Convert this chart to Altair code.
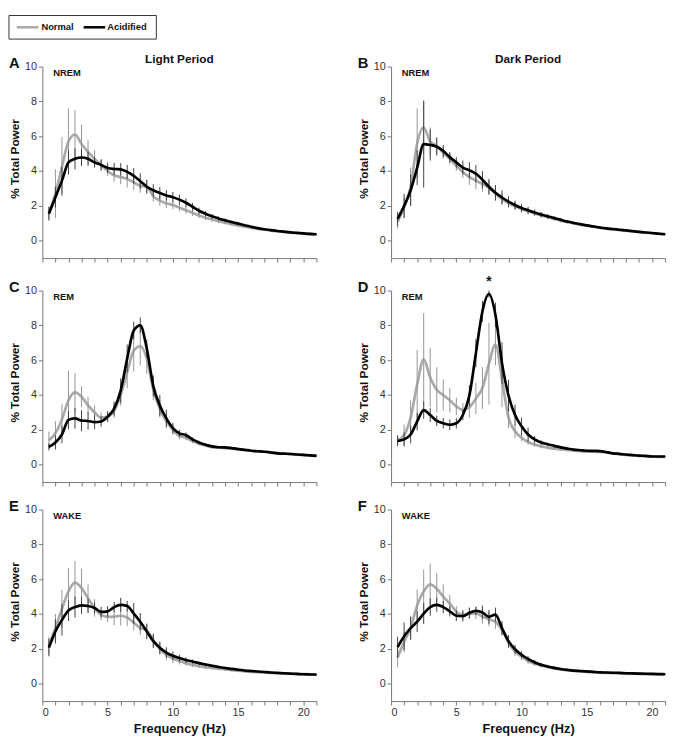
import altair as alt
import pandas as pd

# ---------------- data ----------------
freqs = [0.5 * i for i in range(1, 43)]  # 0.5 .. 21 Hz

A_norm = [1.6, 2.7, 4.25, 5.7, 6.1, 5.55, 5.1, 4.7, 4.35, 4.0, 3.75, 3.65, 3.55, 3.35, 3.15, 3.1, 2.55, 2.3, 2.15, 2.05, 1.9, 1.75, 1.6, 1.45, 1.32, 1.22, 1.12, 1.03, 0.95, 0.87, 0.8, 0.74, 0.68, 0.63, 0.58, 0.54, 0.5, 0.47, 0.44, 0.41, 0.39, 0.37]
A_acid = [1.55, 2.5, 3.45, 4.5, 4.7, 4.78, 4.7, 4.5, 4.35, 4.18, 4.12, 4.1, 3.95, 3.72, 3.42, 3.1, 2.9, 2.74, 2.6, 2.5, 2.36, 2.18, 1.95, 1.72, 1.55, 1.4, 1.28, 1.17, 1.07, 0.98, 0.89, 0.8, 0.72, 0.66, 0.61, 0.56, 0.52, 0.48, 0.45, 0.42, 0.39, 0.37]
A_errN = [0.35, 1.4, 1.7, 1.9, 1.4, 1.1, 0.7, 0.5, 0.35, 0.3, 0.35, 0.4, 0.5, 0.45, 0.4, 0.35, 0.3, 0.3, 0.28, 0.25, 0.22, 0.2, 0.18, 0.15, 0.13, 0.12, 0.1, 0.09, 0.08, 0.07, 0.06, 0.05, 0.05, 0.04, 0.04, 0.04, 0.03, 0.03, 0.03, 0.03, 0.03, 0.03]
A_errA = [0.4, 0.6, 0.8, 0.7, 0.6, 0.5, 0.4, 0.3, 0.3, 0.3, 0.35, 0.35, 0.4, 0.45, 0.45, 0.4, 0.35, 0.35, 0.3, 0.3, 0.28, 0.25, 0.22, 0.18, 0.15, 0.13, 0.11, 0.1, 0.08, 0.07, 0.06, 0.05, 0.05, 0.04, 0.04, 0.04, 0.03, 0.03, 0.03, 0.03, 0.03, 0.03]

B_norm = [1.1, 1.9, 3.1, 5.6, 6.5, 5.7, 5.45, 5.05, 4.7, 4.3, 3.95, 3.65, 3.45, 3.25, 3.05, 2.7, 2.4, 2.15, 1.98, 1.82, 1.7, 1.58, 1.46, 1.35, 1.25, 1.15, 1.07, 0.99, 0.92, 0.86, 0.8, 0.74, 0.69, 0.65, 0.61, 0.57, 0.53, 0.5, 0.47, 0.44, 0.41, 0.38]
B_acid = [1.25, 2.0, 2.9, 4.2, 5.55, 5.5, 5.4, 5.15, 4.8, 4.5, 4.2, 4.05, 3.85, 3.5, 3.1, 2.75, 2.48, 2.25, 2.05, 1.88, 1.75, 1.62, 1.5, 1.4, 1.3, 1.2, 1.1, 1.02, 0.95, 0.88, 0.82, 0.76, 0.71, 0.67, 0.63, 0.59, 0.55, 0.51, 0.47, 0.44, 0.4, 0.37]
B_errN = [0.4, 0.6, 1.1, 2.0, 1.5, 0.8, 0.5, 0.35, 0.3, 0.3, 0.35, 0.45, 0.5, 0.45, 0.4, 0.35, 0.3, 0.25, 0.22, 0.2, 0.18, 0.16, 0.14, 0.12, 0.1, 0.09, 0.08, 0.07, 0.06, 0.05, 0.05, 0.04, 0.04, 0.04, 0.03, 0.03, 0.03, 0.03, 0.03, 0.03, 0.03, 0.03]
B_errA = [0.4, 0.7, 0.9, 1.0, 2.5, 0.9, 0.5, 0.35, 0.3, 0.3, 0.4, 0.45, 0.5, 0.5, 0.45, 0.45, 0.4, 0.3, 0.25, 0.22, 0.2, 0.17, 0.15, 0.13, 0.11, 0.1, 0.09, 0.08, 0.07, 0.06, 0.05, 0.05, 0.04, 0.04, 0.04, 0.03, 0.03, 0.03, 0.03, 0.03, 0.03, 0.03]

C_norm = [1.4, 1.8, 2.6, 3.7, 4.15, 3.9, 3.4, 3.0, 2.7, 2.75, 3.1, 4.0, 5.3, 6.55, 6.8, 6.1, 4.3, 3.2, 2.5, 2.0, 1.65, 1.55, 1.35, 1.2, 1.1, 1.0, 0.97, 0.95, 0.92, 0.88, 0.84, 0.8, 0.77, 0.74, 0.71, 0.67, 0.64, 0.62, 0.59, 0.56, 0.54, 0.52]
C_acid = [1.02, 1.27, 1.73, 2.57, 2.66, 2.53, 2.51, 2.44, 2.48, 2.76, 3.22, 4.25, 6.1, 7.7, 8.0, 6.67, 4.52, 3.4, 2.66, 2.1, 1.8, 1.7, 1.45, 1.27, 1.14, 1.05, 1.0, 0.99, 0.95, 0.9, 0.85, 0.8, 0.77, 0.74, 0.7, 0.65, 0.63, 0.61, 0.58, 0.56, 0.53, 0.5]
C_errN = [0.5, 0.7, 0.9, 1.7, 1.1, 0.6, 0.5, 0.4, 0.3, 0.3, 0.4, 0.6, 0.9, 1.2, 1.1, 0.9, 0.6, 0.5, 0.4, 0.3, 0.2, 0.15, 0.12, 0.1, 0.08, 0.07, 0.06, 0.06, 0.05, 0.05, 0.05, 0.04, 0.04, 0.04, 0.04, 0.03, 0.03, 0.03, 0.03, 0.03, 0.03, 0.03]
C_errA = [0.2, 0.4, 0.5, 0.5, 0.6, 0.6, 0.5, 0.4, 0.3, 0.3, 0.4, 0.7, 0.8, 0.5, 0.45, 0.5, 0.6, 0.6, 0.5, 0.3, 0.2, 0.15, 0.12, 0.1, 0.08, 0.07, 0.06, 0.06, 0.05, 0.05, 0.05, 0.04, 0.04, 0.04, 0.04, 0.03, 0.03, 0.03, 0.03, 0.03, 0.03, 0.03]

D_norm = [1.4, 1.7, 2.7, 4.6, 6.05, 5.0, 4.3, 4.0, 3.7, 3.35, 3.15, 3.3, 3.8, 4.4, 5.8, 6.9, 4.9, 2.7, 1.92, 1.55, 1.3, 1.15, 1.05, 0.98, 0.92, 0.88, 0.84, 0.8, 0.78, 0.75, 0.74, 0.73, 0.7, 0.65, 0.6, 0.56, 0.53, 0.5, 0.48, 0.46, 0.45, 0.44]
D_acid = [1.36, 1.45, 1.73, 2.48, 3.13, 2.85, 2.51, 2.38, 2.29, 2.38, 2.85, 3.97, 6.4, 8.8, 9.8, 8.6, 5.83, 3.97, 2.85, 2.2, 1.73, 1.45, 1.27, 1.17, 1.08, 0.99, 0.92, 0.86, 0.83, 0.8, 0.79, 0.78, 0.72, 0.65, 0.62, 0.58, 0.55, 0.52, 0.5, 0.47, 0.47, 0.47]
D_errN = [0.3, 0.6, 1.0, 2.0, 2.65, 1.7, 1.3, 0.9, 0.7, 0.5, 0.4, 0.6, 0.9, 1.2, 2.35, 1.2, 1.6, 0.6, 0.4, 0.2, 0.15, 0.12, 0.1, 0.08, 0.07, 0.06, 0.06, 0.05, 0.05, 0.05, 0.05, 0.05, 0.04, 0.04, 0.04, 0.03, 0.03, 0.03, 0.03, 0.03, 0.03, 0.03]
D_errA = [0.3, 0.4, 0.5, 0.5, 0.5, 0.4, 0.3, 0.3, 0.3, 0.3, 0.3, 0.6, 0.8, 0.6, 0.2, 0.7, 1.2, 0.9, 0.6, 0.5, 0.4, 0.2, 0.12, 0.1, 0.08, 0.07, 0.06, 0.05, 0.05, 0.05, 0.05, 0.05, 0.04, 0.04, 0.04, 0.03, 0.03, 0.03, 0.03, 0.03, 0.03, 0.03]

E_norm = [2.2, 3.2, 4.3, 5.3, 5.8, 5.5, 4.9, 4.35, 3.95, 3.84, 3.85, 3.9, 3.8, 3.5, 3.2, 3.05, 2.5, 2.0, 1.65, 1.45, 1.3, 1.18, 1.08, 1.0, 0.95, 0.9, 0.86, 0.82, 0.78, 0.75, 0.71, 0.68, 0.66, 0.64, 0.62, 0.6, 0.58, 0.57, 0.56, 0.55, 0.54, 0.52]
E_acid = [2.07, 3.0, 3.66, 4.2, 4.4, 4.5, 4.46, 4.35, 4.12, 4.15, 4.4, 4.53, 4.46, 4.03, 3.56, 3.0, 2.44, 2.07, 1.79, 1.6, 1.47, 1.36, 1.27, 1.18, 1.1, 1.03, 0.96, 0.9, 0.85, 0.8, 0.76, 0.73, 0.7, 0.67, 0.64, 0.62, 0.6, 0.58, 0.56, 0.54, 0.53, 0.52]
E_errN = [0.5, 0.8, 1.1, 1.35, 1.25, 1.1, 0.8, 0.5, 0.3, 0.3, 0.5, 0.55, 0.5, 0.45, 0.4, 0.35, 0.4, 0.35, 0.3, 0.25, 0.2, 0.15, 0.12, 0.1, 0.09, 0.08, 0.07, 0.06, 0.06, 0.05, 0.05, 0.05, 0.04, 0.04, 0.04, 0.03, 0.03, 0.03, 0.03, 0.03, 0.03, 0.03]
E_errA = [0.5, 0.7, 0.9, 0.6, 0.6, 0.5, 0.4, 0.3, 0.3, 0.3, 0.3, 0.4, 0.3, 0.6, 0.5, 0.45, 0.4, 0.35, 0.3, 0.25, 0.2, 0.15, 0.12, 0.1, 0.09, 0.08, 0.07, 0.06, 0.06, 0.05, 0.05, 0.05, 0.04, 0.04, 0.04, 0.03, 0.03, 0.03, 0.03, 0.03, 0.03, 0.03]

F_norm = [1.5, 2.4, 3.2, 4.5, 5.3, 5.7, 5.45, 5.0, 4.6, 4.15, 3.95, 4.0, 4.05, 3.85, 3.7, 3.55, 3.1, 2.35, 1.85, 1.55, 1.3, 1.15, 1.05, 0.95, 0.88, 0.82, 0.77, 0.73, 0.7, 0.68, 0.65, 0.63, 0.62, 0.61, 0.6, 0.58, 0.57, 0.56, 0.55, 0.55, 0.54, 0.53]
F_acid = [2.1, 2.72, 3.19, 3.56, 4.03, 4.4, 4.53, 4.4, 4.16, 3.9, 3.88, 4.07, 4.18, 4.09, 3.84, 3.97, 3.19, 2.44, 1.98, 1.66, 1.42, 1.23, 1.08, 0.99, 0.91, 0.84, 0.79, 0.75, 0.73, 0.71, 0.68, 0.65, 0.64, 0.63, 0.62, 0.6, 0.59, 0.58, 0.57, 0.56, 0.55, 0.54]
F_errN = [0.55, 0.6, 0.7, 0.9, 1.25, 1.2, 0.9, 0.7, 0.5, 0.3, 0.3, 0.3, 0.35, 0.4, 0.4, 0.4, 0.3, 0.3, 0.25, 0.2, 0.15, 0.12, 0.1, 0.09, 0.08, 0.07, 0.06, 0.06, 0.05, 0.05, 0.05, 0.04, 0.04, 0.04, 0.03, 0.03, 0.03, 0.03, 0.03, 0.03, 0.03, 0.03]
F_errA = [0.6, 0.8, 0.65, 0.6, 0.6, 0.5, 0.4, 0.35, 0.3, 0.3, 0.3, 0.3, 0.25, 0.4, 0.4, 0.4, 0.4, 0.35, 0.25, 0.2, 0.15, 0.12, 0.1, 0.09, 0.08, 0.07, 0.06, 0.06, 0.05, 0.05, 0.05, 0.04, 0.04, 0.04, 0.03, 0.03, 0.03, 0.03, 0.03, 0.03, 0.03, 0.03]

panel_letters = ["A", "B", "C", "D", "E", "F"]
stage_labels = ["NREM", "NREM", "REM", "REM", "WAKE", "WAKE"]
column_titles = ["Light Period", "Dark Period"]
series_names = ["Normal", "Acidified"]
x_ticks = list(range(0, 22))
y_ticks = [0, 2, 4, 6, 8, 10]
star_f = [7.5]
star_v = [10.5]

# ---------------- style ----------------
W, H = 279, 195
FONT = "Liberation Sans"
NARROW = "Liberation Sans Narrow, Arial Narrow, Liberation Sans"
GRAY = "#a9a9a9"
BLACK = "#000000"


def panel_df(norm, acid, en, ea):
    rows = []
    for f, n, a, e1, e2 in zip(freqs, norm, acid, en, ea):
        rows.append({"f": f, "g": series_names[0], "v": n, "lo": n - e1, "hi": n + e1})
        rows.append({"f": f, "g": series_names[1], "v": a, "lo": a - e2, "hi": a + e2})
    return pd.DataFrame(rows)


one = pd.DataFrame({"k": [0]})


def make_panel(idx, norm, acid, en, ea):
    bottom = idx >= 4
    top = idx < 2
    df = panel_df(norm, acid, en, ea)
    xax = alt.Axis(
        values=x_ticks,
        labels=bottom,
        labelExpr="datum.value % 5 === 0 ? datum.label : ''",
        title="Frequency (Hz)" if bottom else None,
        titleFontSize=13,
        titlePadding=5,
    )
    yax = alt.Axis(values=y_ticks, title="% Total Power", titleFontSize=12,
                   titleX=-21, titleY=H / 2 - 4, titleBaseline="bottom",
                   titleAlign="center", titleAngle=270)
    xs = alt.Scale(domain=[0, 21], nice=False, zero=False)
    ys = alt.Scale(domain=[-1, 10], nice=False, zero=False)
    X = alt.X("f:Q", scale=xs, axis=xax)
    Y = alt.Y("v:Q", scale=ys, axis=yax)
    Ylo = alt.Y("lo:Q", scale=ys, axis=yax)

    base = alt.Chart(df)
    n_line = base.transform_filter(alt.datum.g == series_names[0]).mark_line(
        color=GRAY, strokeWidth=2.7, interpolate="monotone").encode(x=X, y=Y)
    n_err = base.transform_filter(alt.datum.g == series_names[0]).mark_rule(
        color="#959595", strokeWidth=1).encode(x=X, y=Ylo, y2="hi:Q")
    a_err = base.transform_filter(alt.datum.g == series_names[1]).mark_rule(
        color="#404040", strokeWidth=1).encode(x=X, y=Ylo, y2="hi:Q")
    a_line = base.transform_filter(alt.datum.g == series_names[1]).mark_line(
        color=BLACK, strokeWidth=2.7, interpolate="monotone").encode(x=X, y=Y)

    letter = alt.Chart(one).mark_text(
        text=panel_letters[idx], align="left", baseline="middle", fontSize=15,
        fontWeight="bold", font=FONT, color="#111").encode(x=alt.value(-34), y=alt.value(-4))
    stage = alt.Chart(one).mark_text(
        text=stage_labels[idx], align="left", baseline="middle", fontSize=9.5,
        fontWeight="bold", font=FONT, color="#111").encode(x=alt.value(11), y=alt.value(7))

    layers = [n_line, n_err, a_err, a_line, letter, stage]

    if top:
        ttl = alt.Chart(one).mark_text(
            text=column_titles[idx], align="center", baseline="middle", fontSize=12,
            fontWeight="bold", font=FONT, color="#111").encode(x=alt.value(W / 2), y=alt.value(-8))
        layers.append(ttl)

    if idx == 0:
        box = alt.Chart(one).mark_rect(fill="white", stroke="#333", strokeWidth=1).encode(
            x=alt.value(-34), x2=alt.value(116), y=alt.value(-52), y2=alt.value(-28))
        l1 = alt.Chart(one).mark_rule(color=GRAY, strokeWidth=2.5).encode(
            x=alt.value(-26), x2=alt.value(-4), y=alt.value(-40))
        t1 = alt.Chart(one).mark_text(
            text=series_names[0], align="left", baseline="middle", fontSize=9.5,
            fontWeight="bold", font=FONT, color="#111").encode(x=alt.value(-1), y=alt.value(-40))
        l2 = alt.Chart(one).mark_rule(color=BLACK, strokeWidth=2.5).encode(
            x=alt.value(42), x2=alt.value(64), y=alt.value(-40))
        t2 = alt.Chart(one).mark_text(
            text=series_names[1], align="left", baseline="middle", fontSize=9.5,
            fontWeight="bold", font=FONT, color="#111").encode(x=alt.value(66), y=alt.value(-40))
        layers += [box, l1, t1, l2, t2]

    if idx == 3:
        star_df = pd.DataFrame({"f": star_f, "v": star_v})
        star = alt.Chart(star_df).mark_text(
            text="*", align="center", baseline="middle", fontSize=14,
            fontWeight="bold", font=FONT, color="#111").encode(x=X, y=Y)
        layers.append(star)

    return alt.layer(*layers).properties(width=W, height=H)


data_sets = [
    (A_norm, A_acid, A_errN, A_errA),
    (B_norm, B_acid, B_errN, B_errA),
    (C_norm, C_acid, C_errN, C_errA),
    (D_norm, D_acid, D_errN, D_errA),
    (E_norm, E_acid, E_errN, E_errA),
    (F_norm, F_acid, F_errN, F_errA),
]
panels = [make_panel(i, *d) for i, d in enumerate(data_sets)]

rows = [alt.hconcat(panels[2 * r], panels[2 * r + 1], spacing=36) for r in range(3)]
chart = alt.vconcat(*rows, spacing=12).properties(padding=0).configure_view(
    stroke=None
).configure_axis(
    grid=False,
    domainColor="#777",
    tickColor="#777",
    tickSize=4,
    labelColor="#333",
    labelFont=NARROW,
    labelFontSize=11,
    labelPadding=2,
    titleFont=FONT,
    titleFontWeight="bold",
    titleColor="#111",
)

chart.save("out.html", embed_options={"renderer": "svg", "actions": False})
